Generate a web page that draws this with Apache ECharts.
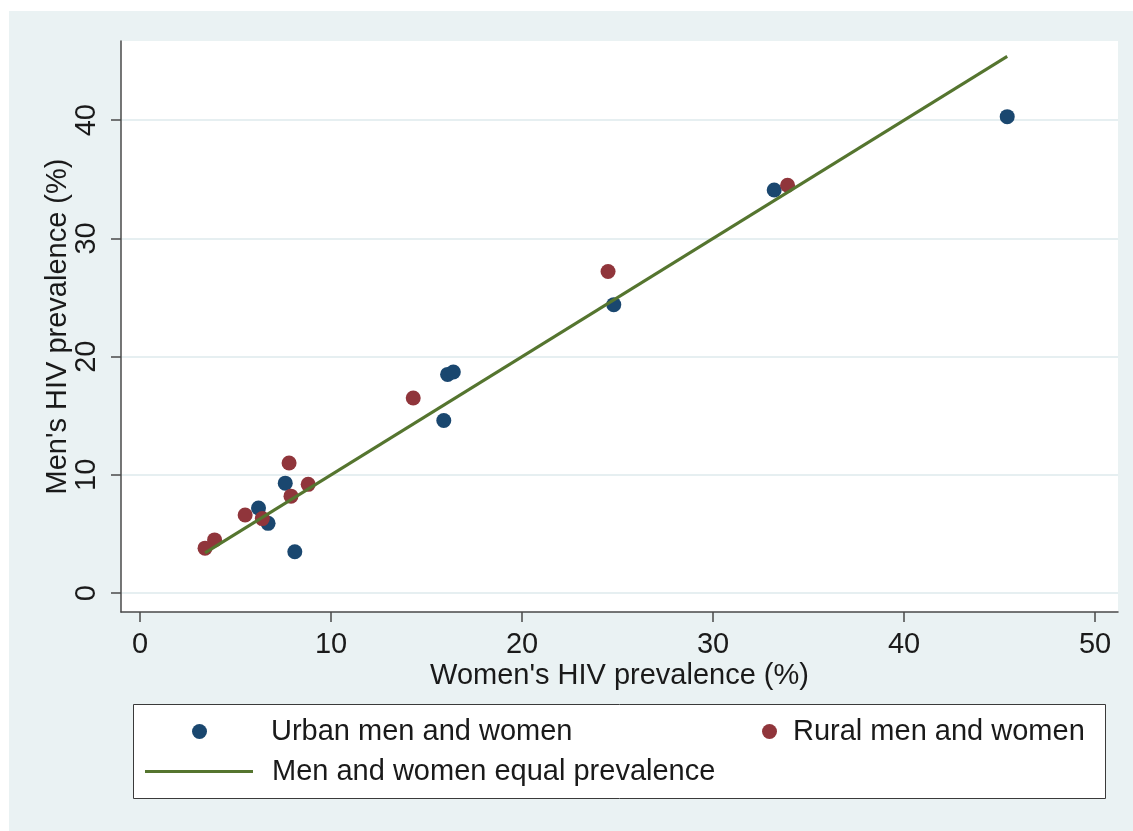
<!DOCTYPE html>
<html>
<head>
<meta charset="utf-8">
<title>HIV prevalence: men vs women</title>
<script src="https://cdn.jsdelivr.net/npm/echarts@6/dist/echarts.min.js"></script>
<style>
  html, body { margin: 0; padding: 0; background: #ffffff; }
  #chart { width: 1133px; height: 831px; }
</style>
</head>
<body>
<div id="chart"></div>
<script>
// Women's (x) and men's (y) HIV prevalence, %, by setting
const urbanWomen = [45.4, 33.2, 24.8, 16.1, 16.4, 15.9, 7.6, 6.2, 6.7, 8.1];
const urbanMen   = [40.3, 34.1, 24.4, 18.5, 18.7, 14.6, 9.3, 7.2, 5.9, 3.5];
const ruralWomen = [33.9, 24.5, 14.3, 7.8, 8.8, 7.9, 5.5, 6.4, 3.9, 3.4];
const ruralMen   = [34.5, 27.2, 16.5, 11.0, 9.2, 8.2, 6.6, 6.3, 4.5, 3.8];

const xTicks = [0, 10, 20, 30, 40, 50];
const yTicks = [0, 10, 20, 30, 40];

const seriesNames = ['Urban men and women', 'Rural men and women', 'Men and women equal prevalence'];

const pair = (xs, ys) => xs.map((x, i) => [x, ys[i]]);

// Equality line spans the observed range of women's prevalence
const allWomen = urbanWomen.concat(ruralWomen);
const lo = Math.min(...allWomen);
const hi = Math.max(...allWomen);
const equalLine = [[lo, lo], [hi, hi]];

const FONT = 'Liberation Sans, Arial, sans-serif';
const FS = 29;
const TXT = '#1a1a1a';
const AXIS = '#4a4a4a';
const GRID = '#e6eff1';
const URBAN = '#1a476f';
const RURAL = '#90353b';
const EQUAL = '#55752f';

const chart = echarts.init(document.getElementById('chart'), null, { renderer: 'canvas' });

chart.setOption({
  animation: false,
  textStyle: { fontFamily: FONT, color: TXT },
  graphic: [
    {
      type: 'rect', z: -100, silent: true,
      shape: { x: 9, y: 11, width: 1124, height: 820 },
      style: { fill: '#eaf2f3' }
    },
    {
      type: 'rect', z: -50, silent: true,
      shape: { x: 133.5, y: 704.5, width: 972, height: 94 },
      style: { fill: '#ffffff', stroke: '#3a3a3a', lineWidth: 1 }
    }
  ],
  grid: {
    left: 121, top: 41, right: 15, bottom: 219,
    show: true, backgroundColor: '#ffffff', borderWidth: 0
  },
  xAxis: {
    type: 'value', min: -1, max: 51.2,
    name: "Women's HIV prevalence (%)",
    nameLocation: 'middle', nameGap: 49, nameMoveOverlap: false,
    nameTextStyle: { fontSize: FS, color: TXT, fontFamily: FONT },
    axisLine: { show: true, onZero: false, lineStyle: { color: AXIS, width: 1.5 } },
    axisTick: { show: true, length: 10, customValues: xTicks, lineStyle: { color: AXIS, width: 1.5 } },
    axisLabel: { customValues: xTicks, fontSize: FS, color: TXT, margin: 18, fontFamily: FONT },
    splitLine: { show: false }
  },
  yAxis: {
    type: 'value', min: -1.6, max: 46.7,
    name: "Men's HIV prevalence (%)",
    nameLocation: 'middle', nameGap: 49, nameRotate: 90, nameMoveOverlap: false,
    nameTextStyle: { fontSize: FS, color: TXT, fontFamily: FONT },
    axisLine: { show: true, onZero: false, lineStyle: { color: AXIS, width: 1.5 } },
    axisTick: { show: true, length: 10, customValues: yTicks, lineStyle: { color: AXIS, width: 1.5 } },
    axisLabel: { customValues: yTicks, rotate: 90, fontSize: FS, color: TXT, margin: 20, fontFamily: FONT },
    splitLine: { show: true, lineStyle: { color: GRID, width: 2 } }
  },
  legend: [
    {
      data: [{ name: seriesNames[0], icon: 'circle' }], left: 192, top: 717, padding: 0,
      itemWidth: 15, itemHeight: 15,
      textStyle: { fontSize: FS, color: TXT, fontFamily: FONT, padding: [0, 0, 0, 59] }
    },
    {
      data: [{ name: seriesNames[1], icon: 'circle' }], left: 762, top: 717, padding: 0,
      itemWidth: 15, itemHeight: 15,
      textStyle: { fontSize: FS, color: TXT, fontFamily: FONT, padding: [0, 0, 0, 11] }
    },
    {
      data: [{ name: seriesNames[2], icon: 'rect' }], left: 145, top: 757, padding: 0,
      itemWidth: 108, itemHeight: 3,
      textStyle: { fontSize: FS, color: TXT, fontFamily: FONT, padding: [0, 0, 0, 14] }
    }
  ],
  series: [
    {
      name: seriesNames[0], type: 'scatter',
      data: pair(urbanWomen, urbanMen),
      symbol: 'circle', symbolSize: 15,
      itemStyle: { color: URBAN, opacity: 1 }
    },
    {
      name: seriesNames[1], type: 'scatter',
      data: pair(ruralWomen, ruralMen),
      symbol: 'circle', symbolSize: 15,
      itemStyle: { color: RURAL, opacity: 1 }
    },
    {
      name: seriesNames[2], type: 'line',
      data: equalLine,
      symbol: 'none', showSymbol: false,
      lineStyle: { color: EQUAL, width: 3 },
      itemStyle: { color: EQUAL }
    }
  ]
});
</script>
</body>
</html>
